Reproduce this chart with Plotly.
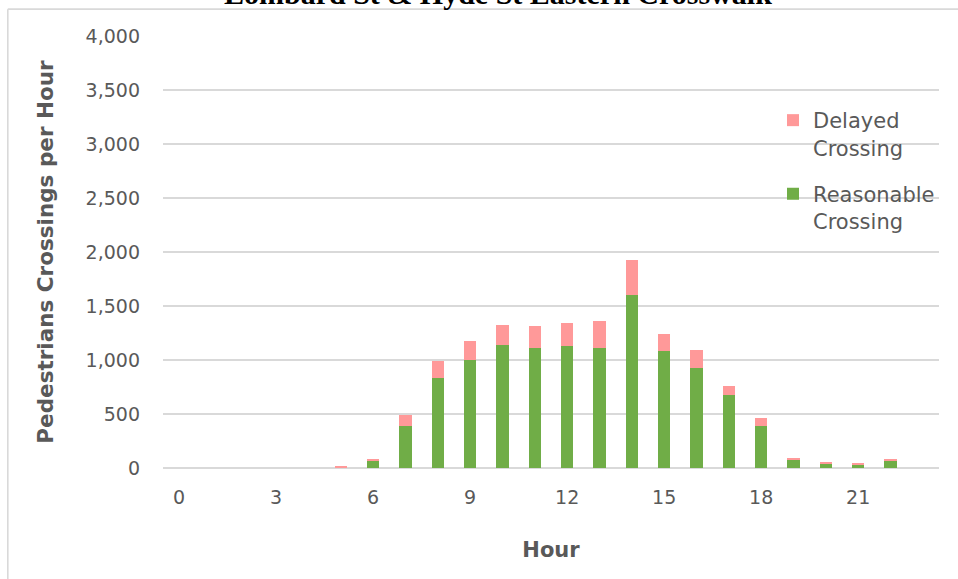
import plotly.graph_objects as go

hours = list(range(24))
reasonable = [0, 0, 0, 0, 0, 0, 68, 392, 830, 997, 1139, 1114, 1127, 1114,
              1602, 1080, 926, 676, 389, 80, 46, 34, 68, 0]
delayed = [0, 0, 0, 0, 0, 18, 15, 96, 163, 179, 188, 201, 213, 250,
           321, 164, 167, 83, 71, 12, 12, 12, 15, 0]
x_ticks = [0, 3, 6, 9, 12, 15, 18, 21]
y_ticks = [0, 500, 1000, 1500, 2000, 2500, 3000, 3500, 4000]

GREEN = "#70AD47"
PINK = "#FF9999"
GREY = "#595959"
GRID = "#D9D9D9"
FONT = "DejaVu Sans"

fig = go.Figure()
fig.add_trace(go.Bar(x=hours, y=reasonable, name="Reasonable<br>Crossing",
                     marker=dict(color=GREEN, line=dict(width=0)),
                     legendgroup="b", legendrank=2))
fig.add_trace(go.Bar(x=hours, y=delayed, name="Delayed<br>Crossing",
                     marker=dict(color=PINK, line=dict(width=0)),
                     legendgroup="a", legendrank=1))

W, H = 958, 579
L, R, T, B = 163, 939, 36, 468
pw, ph = R - L, B - T


def px(xp):
    return (xp - L) / pw


def py(yp):
    return (B - yp) / ph


fig.update_layout(
    width=W, height=H,
    margin=dict(l=L, r=W - R, t=T, b=H - B, autoexpand=False),
    paper_bgcolor="white", plot_bgcolor="white",
    barmode="stack", bargap=0.61,
    font=dict(family=FONT, color=GREY, size=19),
    showlegend=True,
    legend=dict(x=px(773), y=py(100), xanchor="left", yanchor="top",
                traceorder="grouped", valign="top",
                tracegroupgap=16,
                font=dict(family=FONT, size=21, color=GREY),
                bgcolor="rgba(0,0,0,0)"),
    xaxis=dict(range=[-0.5, 23.5], tickvals=x_ticks,
               ticktext=[str(v) for v in x_ticks],
               showgrid=False, zeroline=False, showline=False,
               ticks="", ticklabelstandoff=16,
               tickfont=dict(family=FONT, size=19, color=GREY),
               title=dict(text="<b>Hour</b>", standoff=35,
                          font=dict(family=FONT, size=21, color=GREY))),
    yaxis=dict(range=[0, 4000], tickvals=y_ticks,
               ticktext=[f"{v:,}" for v in y_ticks],
               showgrid=True, gridcolor=GRID, gridwidth=1.6,
               zeroline=True, zerolinecolor=GRID, zerolinewidth=1.6,
               showline=False, ticks="", ticklabelstandoff=22,
               tickfont=dict(family=FONT, size=19, color=GREY),
               title=dict(text="<b>Pedestrians Crossings per Hour</b>",
                          standoff=26,
                          font=dict(family=FONT, size=21.5, color=GREY))),
    shapes=[
        dict(type="line", xref="paper", yref="paper",
             x0=px(7.8), x1=px(970), y0=py(9.2), y1=py(9.2),
             line=dict(color=GRID, width=1.8), layer="above"),
        dict(type="line", xref="paper", yref="paper",
             x0=px(7.8), x1=px(7.8), y0=py(9.2), y1=py(600),
             line=dict(color=GRID, width=1.6), layer="above"),
    ],
    annotations=[
        dict(text="<b>Lombard St &amp; Hyde St Eastern Crosswalk</b>",
             xref="paper", yref="paper", x=px(498), y=py(12),
             xanchor="center", yanchor="bottom", showarrow=False,
             font=dict(family="Liberation Serif", size=30, color="black")),
    ],
)

fig.write_html("out.html", config={"displayModeBar": False},
               post_script="document.body.style.margin='0';")
